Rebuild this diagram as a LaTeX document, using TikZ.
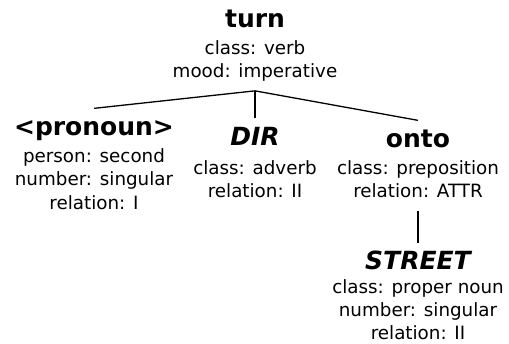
\documentclass[tikz,border=0pt]{standalone}
\usepackage{fontspec}
\setmainfont{DejaVu Sans}
\usetikzlibrary{positioning}

\begin{document}
\begin{tikzpicture}[x=1pt, y=1pt, line width=1.3pt,
  lex/.style={font=\fontsize{25}{25}\selectfont\bfseries, anchor=base,
    inner xsep=0pt, inner ysep=5pt, text height=21pt, text depth=1pt},
  slot/.style={lex, font=\fontsize{25}{25}\selectfont\bfseries\itshape},
  feats/.style={font=\fontsize{18.3}{23.3}\selectfont, align=center,
    inner xsep=0pt, inner ysep=4pt, text depth=8.5pt}]
  \useasboundingbox (0,0) rectangle (509,-343);

  % root
  \node[lex] (turn) at (255,-27) {turn};
  \node[feats, below=2.2pt of turn] (turnf) {class: verb\\mood: imperative};

  % dependents of the verb
  \node[lex] (pronoun) at (94,-135) {<pronoun>};
  \node[feats, below=2.2pt of pronoun] (pronounf)
    {person: second\\number: singular\\relation: I};

  \node[slot] (dir) at (255,-145) {DIR};
  \node[feats, below=4.2pt of dir] (dirf) {class: adverb\\relation: II};

  \node[lex] (onto) at (418,-147) {onto};
  \node[feats, below=2.2pt of onto] (ontof) {class: preposition\\relation: ATTR};

  % object of the preposition
  \node[slot, below=32pt of ontof] (street) {STREET};
  \node[feats, text depth=0.5pt, below=-1.5pt of street] (streetf)
    {class: proper noun\\number: singular\\relation: II};

  % branches
  \draw (turnf.south) -- (pronoun.north);
  \draw (turnf.south) -- (dir.north);
  \draw (turnf.south) -- (onto.north);
  \draw (ontof.south) -- (street.north);
\end{tikzpicture}
\end{document}
